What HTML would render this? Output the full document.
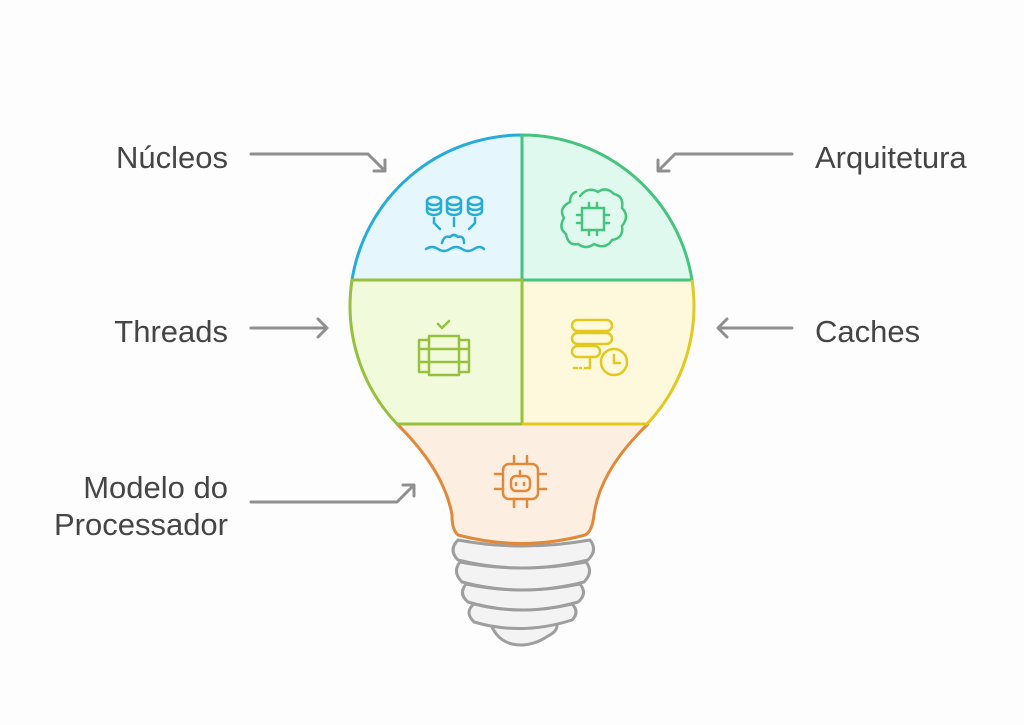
<!DOCTYPE html>
<html><head><meta charset="utf-8"><style>
html,body{margin:0;padding:0;background:#fdfdfd;}
body{width:1024px;height:720px;overflow:hidden;}
text{font-family:"Liberation Sans",sans-serif;font-size:31px;fill:#454545;}
</style></head><body>
<svg width="1024" height="720" viewBox="0 0 1024 720" xmlns="http://www.w3.org/2000/svg">
<defs>
<clipPath id="c"><circle cx="522" cy="307" r="172"/></clipPath>
</defs>
<!-- base -->
<g fill="#f3f3f3" stroke="#9e9e9e" stroke-width="3" stroke-linejoin="round">
<path d="M490 622 Q522 632 556 622 Q560 630 548 636 Q530 648 512 644 Q496 640 490 622 Z"/>
<path d="M474 604 Q522 616 572 604 Q580 612 572 620 Q522 636 474 622 Q464 612 474 604 Z"/>
<path d="M466 584 Q522 596 580 584 Q588 594 578 602 Q522 618 468 602 Q458 594 466 584 Z"/>
<path d="M460 562 Q522 574 586 562 Q594 572 584 582 Q522 598 462 582 Q452 572 460 562 Z"/>
<path d="M458 540 Q522 552 590 540 Q598 550 588 560 Q522 576 458 560 Q448 550 458 540 Z"/>
</g>
<!-- lower orange -->
<path d="M397 424 L648 424 Q600 470 594 515 Q592 532 585 535 Q522 552 458 535 Q452 530 452 515 Q444 470 397 424 Z" fill="#fdeee2" stroke="#e0893a" stroke-width="3" stroke-linejoin="round"/>
<!-- quadrants -->
<g clip-path="url(#c)">
<rect x="340" y="120" width="182" height="160" fill="#e5f6fd"/>
<rect x="522" y="120" width="182" height="160" fill="#e0f9ee"/>
<rect x="340" y="280" width="182" height="144" fill="#f1fbdc"/>
<rect x="522" y="280" width="182" height="144" fill="#fef9dc"/>
</g>
<path d="M352 280 A172 172 0 0 1 522 135 L522 280 Z" fill="none" stroke="#27acd9" stroke-width="3"/>
<path d="M692 280 A172 172 0 0 0 522 135 L522 280 Z" fill="none" stroke="#45c47e" stroke-width="3"/>
<path d="M352 280 A172 172 0 0 0 397 424 L522 424 L522 280 Z" fill="none" stroke="#96c03d" stroke-width="3"/>
<path d="M692 280 A172 172 0 0 1 647 424 L522 424" fill="none" stroke="#e3c81f" stroke-width="3"/>
<!-- icons -->
<g fill="none" stroke="#27acd9" stroke-width="2.5" stroke-linecap="round">
<ellipse cx="434" cy="201" rx="7" ry="4"/><path d="M427 201v10a7 4 0 0 0 14 0v-10M427 206a7 4 0 0 0 14 0"/>
<ellipse cx="454" cy="201" rx="7" ry="4"/><path d="M447 201v10a7 4 0 0 0 14 0v-10M447 206a7 4 0 0 0 14 0"/>
<ellipse cx="475" cy="201" rx="7" ry="4"/><path d="M468 201v10a7 4 0 0 0 14 0v-10M468 206a7 4 0 0 0 14 0"/>
<path d="M434 218v5l6 6M454 218v8M475 218v5l-6 6M426 249q6-4 12 0t12 0 12 0 12 0 10 0M442 243q2-8 8-6 4-4 8 0 6-2 6 6"/>
</g>
<g fill="none" stroke="#45c47e" stroke-width="2.5" stroke-linecap="round">
<path d="M580 196q8-10 18-4 8-6 16 2 10 2 8 14 8 8 0 18 2 12-10 14-6 10-18 4-8 6-16 0-10 2-12-10-8-6-2-16-6-10 6-16 0-8 6-10"/>
<rect x="582" y="208" width="22" height="22"/>
<path d="M589 203v5M597 203v5M589 230v5M597 230v5M577 215h5M577 223h5M604 215h5M604 223h5"/>
</g>
<g fill="none" stroke="#96c03d" stroke-width="2.5" stroke-linecap="round" stroke-linejoin="round">
<rect x="429" y="336" width="30" height="39"/><path d="M429 349h30M429 362h30M429 340h-10v32h10M419 349h10M419 362h10M459 340h10v32h-10M469 349h-10M469 362h-10M438 324l4 4 7-7"/>
</g>
<g fill="none" stroke="#e3c81f" stroke-width="2.5" stroke-linecap="round">
<rect x="572" y="320" width="40" height="11" rx="5.5"/><rect x="572" y="333" width="40" height="11" rx="5.5"/><rect x="572" y="346" width="28" height="11" rx="5.5"/>
<circle cx="614" cy="362" r="13"/><path d="M614 355v8h6M574 368h3M580 368h1M585 368h5v-11"/>
</g>
<g fill="none" stroke="#e0893a" stroke-width="2.5" stroke-linecap="round">
<rect x="503" y="464" width="35" height="35" rx="6"/><rect x="511" y="476" width="19" height="15" rx="5"/>
<path d="M520 471v5M516 483v2M524 483v2M514 456v8M527 456v8M514 499v8M527 499v8M495 474h8M495 489h8M538 474h8M538 489h8"/>
</g>
<!-- arrows -->
<g fill="none" stroke="#8f8f8f" stroke-width="3" stroke-linecap="round" stroke-linejoin="round">
<path d="M251 154H368L385 171M385 160V171H374"/>
<path d="M792 154H675L658 171M658 160V171H669"/>
<path d="M251 328H327M318 319L327 328L318 337"/>
<path d="M792 328H718M727 319L718 328L727 337"/>
<path d="M251 502H397L414 485M403 485H414V496"/>
</g>
<!-- labels -->
<text x="228" y="168" text-anchor="end">Núcleos</text>
<text x="228" y="342" text-anchor="end">Threads</text>
<text x="228" y="498" text-anchor="end">Modelo do</text>
<text x="228" y="535" text-anchor="end">Processador</text>
<text x="815" y="168">Arquitetura</text>
<text x="815" y="342">Caches</text>
</svg>
</body></html>
